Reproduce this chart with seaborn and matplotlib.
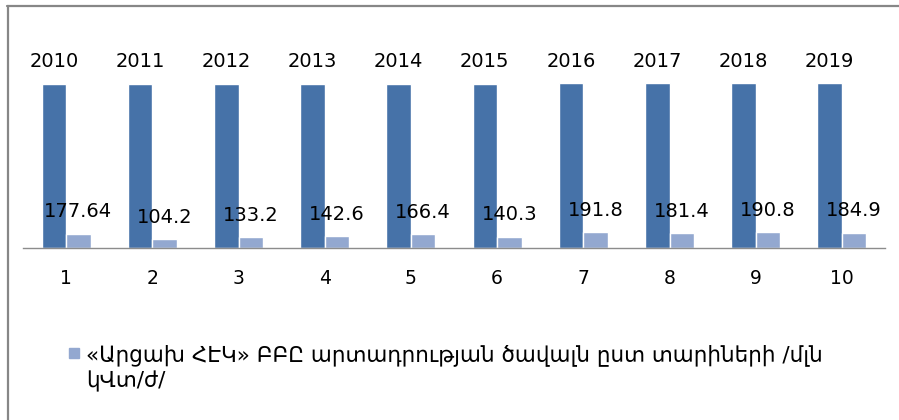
import matplotlib
matplotlib.use("Agg")
import matplotlib.pyplot as plt
import pandas as pd
import seaborn as sns
from matplotlib.lines import Line2D
from matplotlib.patches import Rectangle

# data
categories = [1, 2, 3, 4, 5, 6, 7, 8, 9, 10]
years = [2010, 2011, 2012, 2013, 2014, 2015, 2016, 2017, 2018, 2019]
output = [177.64, 104.2, 133.2, 142.6, 166.4, 140.3, 191.8, 181.4, 190.8, 184.9]
legend_label = "«Արցախ ՀԷԿ» ԲԲԸ արտադրության ծավալն ըստ տարիների /մլն\nկՎտ/ժ/"

dark = "#4672A8"
light = "#93A8D0"

df = pd.DataFrame({
    "cat": categories * 2,
    "value": years + output,
    "series": ["year"] * len(years) + ["output"] * len(output),
})

sns.set_style("white")
plt.rcParams["font.family"] = ["DejaVu Sans"]
plt.rcParams["text.color"] = "black"
plt.rcParams["xtick.color"] = "black"

W, H = 899, 420
fig = plt.figure(figsize=(W / 100, H / 100), dpi=100)
ax = fig.add_axes([23 / W, 172 / H, 862 / W, 204 / H])

sns.barplot(data=df, x="cat", y="value", hue="series", palette=[dark, light],
            width=0.57, saturation=1, legend=False, ax=ax)

ax.set_ylim(0, 2500)
ax.set_xlim(-0.5, 9.5)
ax.bar_label(ax.containers[0], labels=[str(y) for y in years], padding=9, fontsize=14)
ax.bar_label(ax.containers[1], labels=[f"{v:g}" for v in output], padding=9, fontsize=14)

for s in ["top", "left", "right"]:
    ax.spines[s].set_visible(False)
ax.spines["bottom"].set_color("#8c8c8c")
ax.spines["bottom"].set_linewidth(1)
ax.set_yticks([])
ax.tick_params(axis="x", length=0, pad=15, labelsize=13.5)
ax.set_xlabel("")
ax.set_ylabel("")
ax.patch.set_alpha(0)

# chart frame (top and left edges visible in the crop)
fig.add_artist(Line2D([7 / W, 1], [1 - 6 / H, 1 - 6 / H], color="#878787", lw=1.6))
fig.add_artist(Line2D([8 / W, 8 / W], [0, 1 - 6 / H], color="#878787", lw=1.6))

# legend
fig.add_artist(Rectangle((69 / W, 1 - 358 / H), 10 / W, 10 / H, color=light,
                         transform=fig.transFigure))
fig.text(86 / W, 1 - 344 / H, legend_label, fontsize=15.5, va="top", ha="left",
         linespacing=1.3)

fig.savefig("out.png", dpi=100)
